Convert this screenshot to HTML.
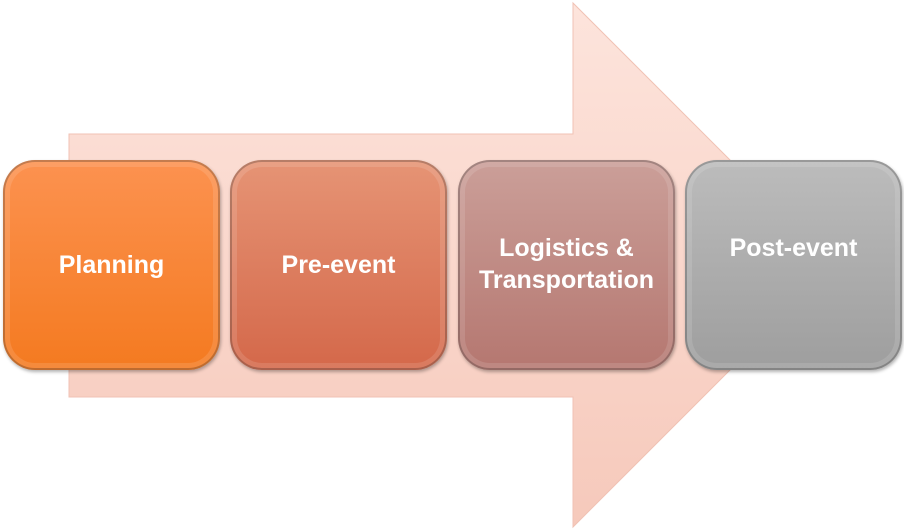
<!DOCTYPE html>
<html><head><style>
body{margin:0;width:904px;height:530px;background:#fff;position:relative;overflow:hidden;font-family:"Liberation Sans",sans-serif}
.b{position:absolute;top:160px;width:217px;height:210px;border-radius:32px;box-sizing:border-box;color:#fff;font-weight:bold;font-size:25px;text-align:center;display:flex;justify-content:center;line-height:32px;box-shadow:inset 0 0 0 2px rgba(0,0,0,0.22),inset 0 0 0 7px rgba(255,255,255,0.12),1px 2px 3px rgba(0,0,0,0.3)}
</style></head><body>
<svg width="904" height="530" style="position:absolute;left:0;top:0">
<defs><linearGradient id="a" x1="0" y1="0" x2="0" y2="1"><stop offset="0" stop-color="#fde4dc"/><stop offset="1" stop-color="#f6c9bb"/></linearGradient></defs>
<polygon points="69,134 573,134 573,3 835,265 573,527 573,397 69,397" fill="url(#a)" stroke="#f0c2b4" stroke-width="1"/>
</svg>
<div class="b" style="left:3px;background:linear-gradient(#fc9250,#f47a20);align-items:center">Planning</div>
<div class="b" style="left:230px;background:linear-gradient(#e69475,#d4684a);align-items:center">Pre-event</div>
<div class="b" style="left:458px;background:linear-gradient(#cb9f99,#b57770);padding-top:72px">Logistics &amp;<br>Transportation</div>
<div class="b" style="left:685px;background:linear-gradient(#bcbcbc,#9e9e9e);padding-top:72px">Post-event</div>
</body></html>
